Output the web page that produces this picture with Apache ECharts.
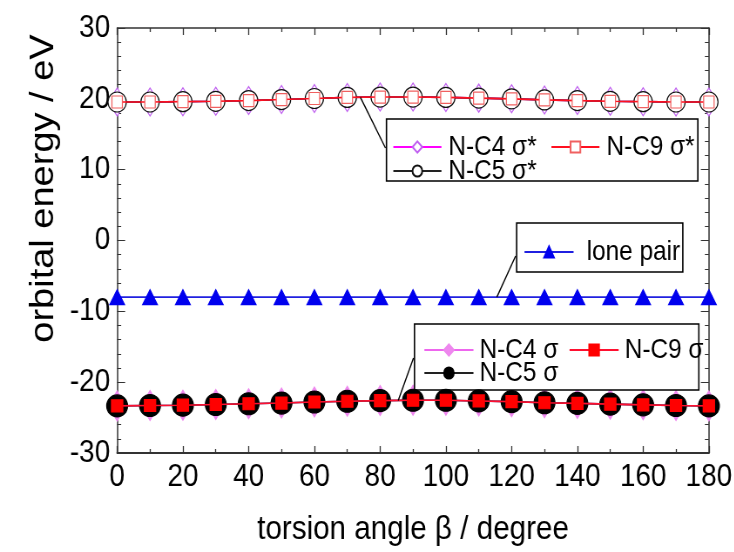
<!DOCTYPE html>
<html>
<head>
<meta charset="utf-8">
<script src="https://cdn.jsdelivr.net/npm/echarts@6/dist/echarts.min.js"></script>
<style>
html,body{margin:0;padding:0;background:#fff;overflow:hidden;width:734px;height:552px;}
#chart{width:843.7px;height:552px;transform:scaleX(0.87);transform-origin:0 0;}
</style>
</head>
<body>
<div id="chart"></div>
<script>
// ---- data ----
var angles = [0,10,20,30,40,50,60,70,80,90,100,110,120,130,140,150,160,170,180];
var xTicks = [0,20,40,60,80,100,120,140,160,180];
var yTicks = [-30,-20,-10,0,10,20,30];
var nc4SigmaStar = [19.55,19.55,19.6,19.65,19.75,19.9,20.05,20.2,20.25,20.25,20.2,20.1,20.0,19.85,19.75,19.65,19.6,19.55,19.55];
var nc5SigmaStar = [19.55,19.55,19.6,19.65,19.75,19.9,20.05,20.2,20.25,20.25,20.2,20.1,20.0,19.85,19.75,19.65,19.6,19.55,19.55];
var nc9SigmaStar = [19.55,19.55,19.6,19.65,19.75,19.9,20.05,20.2,20.25,20.25,20.2,20.1,20.0,19.85,19.75,19.65,19.6,19.55,19.55];
var lonePair = [-8.0,-8.0,-8.0,-8.0,-8.0,-8.0,-8.0,-8.0,-8.0,-8.0,-8.0,-8.0,-8.0,-8.0,-8.0,-8.0,-8.0,-8.0,-8.0];
var nc4Sigma = [-23.35,-23.3,-23.25,-23.15,-23.05,-22.95,-22.8,-22.7,-22.6,-22.55,-22.55,-22.65,-22.75,-22.9,-23.0,-23.1,-23.2,-23.3,-23.35];
var nc5Sigma = [-23.35,-23.3,-23.25,-23.15,-23.05,-22.95,-22.8,-22.7,-22.6,-22.55,-22.55,-22.65,-22.75,-22.9,-23.0,-23.1,-23.2,-23.3,-23.35];
var nc9Sigma = [-23.35,-23.3,-23.25,-23.15,-23.05,-22.95,-22.8,-22.7,-22.6,-22.55,-22.55,-22.65,-22.75,-22.9,-23.0,-23.1,-23.2,-23.3,-23.35];

function pairs(v){ return angles.map(function(a,i){ return [a, v[i]]; }); }

var FONT = '"Liberation Sans",Arial,sans-serif';
var AX = '#333';
var K = 0.87; // horizontal compression of the whole figure (applied via CSS)
function X(realPx){ return realPx / K; }

var chart = echarts.init(document.getElementById('chart'), null, {renderer:'canvas', width:843.7, height:552});

function mkLine(name, data, symbol, size, fill, border, lineColor, z){
  return {
    type:'line', name:name, data:pairs(data), symbol:symbol, symbolSize:size,
    showAllSymbol:true, xAxisIndex:0, yAxisIndex:0, z:z,
    lineStyle:{color:lineColor, width:1.6},
    itemStyle:{color:fill, borderColor:border, borderWidth:1.2},
    emphasis:{disabled:true}, animation:false
  };
}

function legendText(padL, padR){
  return {fontFamily:FONT, fontSize:28, color:'#000', lineHeight:20, padding:[0,padR,0,padL]};
}
function mkLegend(names, leftReal, centerY, iconReal, padL, padR){
  return {
    data:names, left:X(leftReal), top:centerY-10, orient:'horizontal',
    itemWidth:X(iconReal), itemHeight:14, itemGap:0, padding:0,
    textStyle:legendText(padL, padR), selectedMode:false
  };
}

var option = {
  backgroundColor:'#fff',
  animation:false,
  grid:{left:X(117), right:X(26), top:28, bottom:88, containLabel:false},
  xAxis:[{
    type:'value', min:0, max:180, interval:20, position:'bottom',
    name:'torsion angle \u03B2 / degree', nameLocation:'middle', nameGap:60,
    nameTextStyle:{fontFamily:FONT, fontSize:34, color:'#000'},
    axisLine:{show:true, onZero:false, lineStyle:{color:AX, width:1.8}},
    axisTick:{show:true, inside:true, length:7, lineStyle:{color:AX, width:1.3}},
    minorTick:{show:true, splitNumber:2, length:4, lineStyle:{color:AX, width:1.3}},
    splitLine:{show:false},
    axisLabel:{fontFamily:FONT, fontSize:32, color:'#000', margin:8,
      formatter:function(v){ return xTicks.indexOf(v)>=0 ? String(v) : ''; }}
  },{
    type:'value', min:0, max:180, interval:20, position:'top',
    axisLine:{show:true, onZero:false, lineStyle:{color:AX, width:1.5}},
    axisTick:{show:true, inside:true, length:7, lineStyle:{color:AX, width:1.3}},
    minorTick:{show:true, splitNumber:2, length:4, lineStyle:{color:AX, width:1.3}},
    splitLine:{show:false}, axisLabel:{show:false}
  }],
  yAxis:[{
    type:'value', min:-30, max:30, interval:10, position:'left',
    name:'orbital energy / eV', nameLocation:'middle', nameRotate:90, nameGap:56,
    nameTextStyle:{fontFamily:FONT, fontSize:38, color:'#000', padding:[0,0,0,104]},
    axisLine:{show:true, onZero:false, lineStyle:{color:AX, width:1.5}},
    axisTick:{show:true, inside:true, length:X(8), lineStyle:{color:AX, width:1}},
    minorTick:{show:true, splitNumber:5, length:X(4), lineStyle:{color:AX, width:1}},
    splitLine:{show:false},
    axisLabel:{fontFamily:FONT, fontSize:32, color:'#000', margin:X(7),
      formatter:function(v){ return yTicks.indexOf(v)>=0 ? String(v) : ''; }}
  },{
    type:'value', min:-30, max:30, interval:10, position:'right',
    axisLine:{show:true, onZero:false, lineStyle:{color:AX, width:1.5}},
    axisTick:{show:true, inside:true, length:X(8), lineStyle:{color:AX, width:1}},
    minorTick:{show:true, splitNumber:5, length:X(4), lineStyle:{color:AX, width:1}},
    splitLine:{show:false}, axisLabel:{show:false}
  }],
  legend:[
    mkLegend(['N-C4 \u03C3*','N-C9 \u03C3*'], 392, 143, 48, 3, 16),
    mkLegend(['N-C5 \u03C3*'], 392, 167, 48, 3, 0),
    mkLegend(['lone pair'], 523, 248, 49, 10, 0),
    mkLegend(['N-C4 \u03C3','N-C9 \u03C3'], 423, 346, 49, 2, 12),
    mkLegend(['N-C5 \u03C3'], 423, 369, 49, 2, 0)
  ],
  series:[
    mkLine('N-C4 \u03C3*', nc4SigmaStar, 'diamond', [20,28], '#fff', '#c060f0', '#ff00ff', 2),
    mkLine('N-C5 \u03C3*', nc5SigmaStar, 'circle', [21,20], '#fff', '#111', '#222', 3),
    mkLine('N-C9 \u03C3*', nc9SigmaStar, 'rect', [12,12], '#fff', '#f06060', '#ff1020', 4),
    mkLine('lone pair', lonePair, 'triangle', [17,15], '#0000ee', '#0000ee', '#2020e0', 3),
    mkLine('N-C4 \u03C3', nc4Sigma, 'diamond', [20,30], '#ee88ee', '#ee88ee', '#ee66ee', 2),
    mkLine('N-C5 \u03C3', nc5Sigma, 'circle', [24,22], '#000', '#000', '#222', 3),
    mkLine('N-C9 \u03C3', nc9Sigma, 'rect', [13,12], '#ff0000', '#ff0000', '#ff1030', 4)
  ]
};
chart.setOption(option);

// legend frames and leader lines from the curves to the legend boxes
function px(x, y){ return chart.convertToPixel({xAxisIndex:0, yAxisIndex:0}, [x, y]); }
var a = px(74, 20.2), b = px(115.5, -8.0), c = px(85.5, -22.6);
function frame(l, t, r, bt){
  return {type:'rect', shape:{x:X(l), y:t, width:X(r)-X(l), height:bt-t},
    style:{fill:'#fff', stroke:'#000', lineWidth:1.6}, z:3};
}
chart.setOption({
  graphic:[
    frame(386, 119, 697, 181),
    frame(516, 223, 682, 272),
    frame(414, 324, 698, 390),
    {type:'line', shape:{x1:a[0], y1:a[1], x2:X(385), y2:148}, style:{stroke:'#000', lineWidth:1.4}, z:10},
    {type:'line', shape:{x1:b[0], y1:b[1], x2:X(515), y2:256}, style:{stroke:'#000', lineWidth:1.4}, z:10},
    {type:'line', shape:{x1:c[0], y1:c[1], x2:X(413), y2:358}, style:{stroke:'#000', lineWidth:1.4}, z:10}
  ]
});
</script>
</body>
</html>
